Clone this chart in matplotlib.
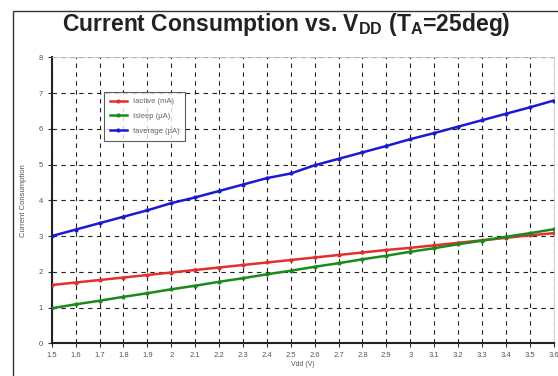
import matplotlib
matplotlib.use("Agg")
import matplotlib.pyplot as plt
from matplotlib.patches import Rectangle

vdd = [1.5, 1.6, 1.7, 1.8, 1.9, 2.0, 2.1, 2.2, 2.3, 2.4, 2.5, 2.6, 2.7, 2.8, 2.9, 3.0, 3.1, 3.2, 3.3, 3.4, 3.5, 3.6]
iactive = [1.63, 1.70, 1.77, 1.84, 1.91, 1.98, 2.05, 2.12, 2.19, 2.26, 2.33, 2.40, 2.47, 2.54, 2.61, 2.67, 2.74, 2.81, 2.88, 2.95, 3.02, 3.08]
isleep = [0.98, 1.09, 1.19, 1.30, 1.40, 1.51, 1.61, 1.72, 1.82, 1.93, 2.03, 2.14, 2.24, 2.35, 2.45, 2.56, 2.66, 2.77, 2.87, 2.98, 3.08, 3.19]
iaverage = [3.00, 3.18, 3.36, 3.54, 3.72, 3.92, 4.08, 4.26, 4.44, 4.62, 4.75, 4.98, 5.16, 5.34, 5.52, 5.71, 5.88, 6.06, 6.24, 6.42, 6.60, 6.79]
series_labels = ["Iactive (mA)", "Isleep (\u03bcA)", "Iaverage (\u03bcA)"]
xtick_labels = ["1.5", "1.6", "1.7", "1.8", "1.9", "2", "2.1", "2.2", "2.3", "2.4", "2.5", "2.6", "2.7", "2.8", "2.9", "3", "3.1", "3.2", "3.3", "3.4", "3.5", "3.6"]
yticks = [0, 1, 2, 3, 4, 5, 6, 7, 8]

plt.rcParams['font.family'] = ['Liberation Sans', 'DejaVu Sans']

fig = plt.figure(figsize=(5.58, 3.76), dpi=100)
fig.patch.set_facecolor('white')
ax = fig.add_axes([0.0927, 0.0870, 0.8996, 0.7606])

colors = ['#e03030', '#1a8a1a', '#1a1ad0']
for y, c, lab in zip([iactive, isleep, iaverage], colors, series_labels):
    ax.plot(vdd, y, color=c, lw=1.8, marker='o', ms=2.0, label=lab, zorder=3)

ax.set_xlim(1.5, 3.6)
ax.set_ylim(0, 8)
ax.set_xticks(vdd)
ax.set_xticklabels(xtick_labels)
ax.set_yticks(yticks)
ax.tick_params(labelsize=5.5, labelcolor='#555555', length=3, width=0.8, color='#333333')
ax.grid(True, color='#222222', ls=(0, (4, 4)), lw=0.8)
for s in ['left', 'bottom']:
    ax.spines[s].set_color('#222222')
    ax.spines[s].set_linewidth(1.5)
for s in ['top', 'right']:
    ax.spines[s].set_color('#cccccc')
    ax.spines[s].set_linewidth(0.6)
ax.set_ylabel('Current Consumption', fontsize=5.5, color='#555555', labelpad=8)
ax.set_xlabel('Vdd (V)', fontsize=5, color='#555555', labelpad=1)

leg = ax.legend(loc='upper left', bbox_to_anchor=(0.096, 0.893), fontsize=5.5,
                frameon=True, fancybox=False, edgecolor='#333333', handlelength=2.2,
                borderpad=0.8, labelspacing=1.0)
leg.get_frame().set_linewidth(0.8)
for t in leg.get_texts():
    t.set_color('#666666')

fig.text(0.513, 0.935, r'Current Consumption vs. V$_{\mathregular{DD}}$ (T$_{\mathregular{A}}$=25deg)',
         ha='center', va='center', fontsize=16.5, fontweight='bold', color='#222222')

fig.patches.append(Rectangle((13/558, -0.05), 1.0, 1.05 - 11/376, transform=fig.transFigure,
                             fill=False, edgecolor='#333333', lw=1.0))

fig.savefig('out.png', dpi=100)
